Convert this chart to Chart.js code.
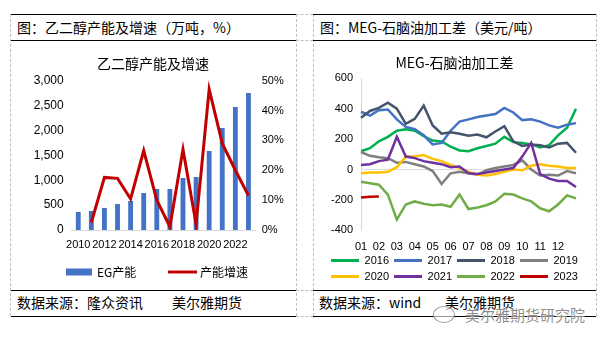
<!DOCTYPE html>
<html><head><meta charset="utf-8">
<script src="https://cdn.jsdelivr.net/npm/chart.js@4.4.1/dist/chart.umd.min.js"></script>
<style>
html,body{margin:0;padding:0;background:#fff;width:603px;height:342px;overflow:hidden;}
body{position:relative;font-family:"Noto Sans CJK SC",sans-serif;}
.solid{position:absolute;height:0;border-top:1px solid #000;}
.vdash{position:absolute;width:0;border-left:1px dashed #bfbfbf;}
.hdash{position:absolute;height:0;border-top:1px dashed #bfbfbf;}
.txt{position:absolute;font-size:14px;line-height:16px;color:#000;white-space:nowrap;}
canvas{position:absolute;}
.wm{position:absolute;font-size:15px;line-height:18px;color:rgba(95,95,95,0.72);white-space:nowrap;
    text-shadow:0 0 2px #fff,0 0 1px #fff;}
.icon{position:absolute;border:1.5px solid rgba(110,110,110,0.65);border-radius:50%;background:rgba(255,255,255,0.6);}
</style></head><body>
<div class="vdash" style="left:10px;top:14px;height:302px"></div>
<div class="vdash" style="left:296px;top:14px;height:302px"></div>
<div class="vdash" style="left:313px;top:14px;height:302px"></div>
<div class="vdash" style="left:596px;top:14px;height:302px"></div>
<div class="hdash" style="left:296px;top:14px;width:17px"></div>
<div class="hdash" style="left:296px;top:40px;width:17px"></div>
<div class="hdash" style="left:296px;top:290px;width:17px"></div>
<div class="hdash" style="left:296px;top:316px;width:17px"></div>
<div class="solid" style="left:11px;top:14px;width:285px"></div>
<div class="solid" style="left:11px;top:40px;width:285px"></div>
<div class="solid" style="left:11px;top:290px;width:285px"></div>
<div class="solid" style="left:11px;top:316px;width:285px"></div>
<div class="solid" style="left:313px;top:14px;width:283px"></div>
<div class="solid" style="left:313px;top:40px;width:283px"></div>
<div class="solid" style="left:313px;top:290px;width:283px"></div>
<div class="solid" style="left:313px;top:316px;width:283px"></div>

<div class="txt" style="left:17px;top:19px">图：乙二醇产能及增速（万吨，%）</div>
<div class="txt" style="left:17px;top:294px">数据来源：隆众资讯</div>
<div class="txt" style="left:172px;top:294px">美尔雅期货</div>
<div class="txt" style="left:320px;top:19px">图：MEG-石脑油加工差（美元/吨）</div>
<div class="txt" style="left:319px;top:294px">数据来源：wind</div>
<div class="txt" style="left:445px;top:294px">美尔雅期货</div>

<canvas id="left" width="284" height="247" style="left:11px;top:41px"></canvas>
<canvas id="right" width="281" height="251" style="left:314px;top:41px"></canvas>

<div class="icon" style="left:433px;top:306px;width:20px;height:15px"></div>
<div class="wm" style="left:465px;top:306px">美尔雅期货研究院</div>

<script>
// ---------- Left chart data ----------
const years = ['2010','2011','2012','2013','2014','2015','2016','2017','2018','2019','2020','2021','2022','2023'];
const egCapacity = [362, 382, 442, 522, 583, 743, 824, 824, 1045, 1065, 1587, 2049, 2471, 2752];
const growthRate = [null, 2.5, 17.6, 17.3, 10.4, 26.6, 10.0, 1.1, 27.0, 2.0, 47.1, 29.0, 20.0, 11.5];

// ---------- Right chart data ----------
const sampleDates = ['01/01','01/16','02/01','02/16','03/01','03/16','04/01','04/16','05/01','05/16','06/01','06/16',
  '07/01','07/16','08/01','08/16','09/01','09/16','10/01','10/16','11/01','11/16','12/01','12/16','12/31'];
const monthTicks = ['01','02','03','04','05','06','07','08','09','10','11','12'];
const s2016 = [120,140,185,215,255,265,255,220,190,185,150,125,120,140,155,170,215,180,175,165,145,160,225,275,400];
const s2017 = [380,355,390,395,330,280,265,225,165,175,255,315,330,345,355,365,405,375,325,330,315,290,275,295,305];
const s2018 = [340,385,405,440,400,300,333,420,290,235,245,235,222,230,212,250,285,185,155,165,160,145,170,175,110];
const s2019 = [115,90,80,75,45,50,35,20,-10,-95,-25,-15,-25,-35,-5,10,20,30,60,0,-40,-35,-40,-10,-25];
const s2020 = [-25,-20,-20,-15,15,85,85,95,70,55,30,10,-15,-35,-40,-30,-15,0,-5,25,35,25,20,10,10];
const s2021 = [30,35,55,65,215,85,75,55,45,35,15,20,-25,-30,-20,-10,0,10,85,175,-30,-60,-75,-75,-115];
const s2022 = [-80,-90,-100,-165,-330,-230,-210,-225,-235,-230,-245,-165,-260,-250,-235,-210,-160,-165,-190,-210,-255,-275,-230,-170,-190];
const s2023 = [-185,-180,-178];
const seriesNames = ['2016','2017','2018','2019','2020','2021','2022','2023'];
const seriesValues = [s2016,s2017,s2018,s2019,s2020,s2021,s2022,s2023];
const seriesColors = ['#00B050','#4472C4','#44546A','#7F7F7F','#FFC000','#7030A0','#70AD47','#C00000'];

const CJK = '"Noto Sans CJK SC", sans-serif';
const LAT = '"Liberation Sans", "Noto Sans CJK SC", sans-serif';
Chart.defaults.color = '#000';

const defaultLabels = Chart.defaults.plugins.legend.labels.generateLabels;

// Legend for the left chart, drawn on the chart canvas from the chart's own datasets
const leftLegend = {
  id: 'leftLegend',
  afterDraw(chart) {
    const ctx = chart.ctx;
    const ds = chart.data.datasets;
    const cy = 231;
    ctx.save();
    ctx.font = '12px ' + CJK;
    ctx.textBaseline = 'middle';
    ctx.textAlign = 'left';
    ctx.fillStyle = ds[0].backgroundColor;
    ctx.fillRect(55, cy - 3.5, 26, 7);
    ctx.fillStyle = '#000';
    ctx.fillText(ds[0].label, 86, cy);
    ctx.strokeStyle = ds[1].borderColor;
    ctx.lineWidth = 3;
    ctx.beginPath();
    ctx.moveTo(157, cy);
    ctx.lineTo(186, cy);
    ctx.stroke();
    ctx.fillStyle = '#000';
    ctx.fillText(ds[1].label, 189, cy);
    ctx.restore();
  }
};

new Chart(document.getElementById('left'), {
  type: 'bar',
  data: {
    labels: years,
    datasets: [
      {type:'bar', label:'EG产能', data: egCapacity, backgroundColor:'#4472C4', yAxisID:'y', order:1,
       barPercentage:0.37, categoryPercentage:1},
      {type:'line', label:'产能增速', data: growthRate, borderColor:'#C00000', backgroundColor:'#C00000',
       borderWidth:3, pointRadius:0, yAxisID:'y1', order:0, tension:0}
    ]
  },
  plugins: [leftLegend],
  options: {
    responsive:false, animation:false, devicePixelRatio:1,
    layout:{padding:0},
    plugins:{
      tooltip:{enabled:false},
      legend:{display:false},
      title:{display:true, text:'乙二醇产能及增速', color:'#000',
        font:{family:CJK, size:14, weight:'normal'}, padding:{top:14.6, bottom:8.3}}
    },
    scales:{
      x:{grid:{display:false, drawTicks:false}, border:{display:true, color:'#D9D9D9'},
        ticks:{autoSkip:false, maxRotation:0, padding:8, font:{family:LAT, size:11}, color:'#000',
          callback:(v,i)=> (i%2===0 ? years[i] : '')},
        afterFit:(s)=>{ s.height = 58; }},
      y:{position:'left', min:0, max:3000,
        ticks:{stepSize:500, padding:8, font:{family:LAT, size:12}, color:'#000',
          callback:(v)=>v.toLocaleString('en-US')},
        grid:{display:false, drawTicks:false}, border:{display:false},
        afterFit:(s)=>{ s.width = 60.7; }},
      y1:{position:'right', min:0, max:50,
        ticks:{stepSize:10, padding:6.7, font:{family:LAT, size:11}, color:'#000',
          callback:(v)=>v+'%'},
        grid:{display:false, drawTicks:false}, border:{display:false},
        afterFit:(s)=>{ s.width = 40; }}
    }
  }
});

new Chart(document.getElementById('right'), {
  type:'line',
  data:{
    labels: sampleDates,
    datasets: seriesNames.map((name,i)=>({
      label:name, data:seriesValues[i], borderColor:seriesColors[i], backgroundColor:seriesColors[i],
      borderWidth:2.5, pointRadius:0, tension:0, order: seriesNames.length - i
    }))
  },
  options:{
    responsive:false, animation:false, devicePixelRatio:1,
    layout:{padding:0},
    plugins:{
      tooltip:{enabled:false},
      title:{display:true, text:'MEG-石脑油加工差', color:'#000',
        font:{family:CJK, size:14, weight:'normal'}, padding:{top:13.6, bottom:6.9}},
      legend:{position:'bottom',
        labels:{usePointStyle:true, pointStyle:'line', pointStyleWidth:28, boxHeight:3, padding:5, color:'#000',
          font:{family:LAT, size:11},
          sort:(a,b)=>a.datasetIndex-b.datasetIndex,
          generateLabels:(chart)=>{
            const items = defaultLabels(chart);
            items.forEach(it=>{ it.pointStyle='line'; it.lineWidth=3; });
            return items;
          }}}
    },
    scales:{
      x:{type:'category', offset:false, grid:{display:false, drawTicks:false}, border:{display:false},
        ticks:{autoSkip:false, maxRotation:0, padding:10, font:{family:LAT, size:11}, color:'#000',
          callback:(v,i)=>{ const d = sampleDates[i]; return (d.endsWith('/01') ? monthTicks[parseInt(d.slice(0,2),10)-1] : ''); }},
        afterFit:(s)=>{ s.height = 19.7; }},
      y:{min:-400, max:600,
        ticks:{stepSize:200, padding:8, font:{family:LAT, size:11}, color:'#000'},
        grid:{drawTicks:false, color:(c)=> (c.tick && c.tick.value===0 ? '#D9D9D9' : 'rgba(0,0,0,0)')},
        border:{display:true, color:'#D9D9D9'},
        afterFit:(s)=>{ s.width = 47; }},
      yR:{position:'right', display:true, min:0, max:1,
        ticks:{display:false}, grid:{display:false, drawTicks:false}, border:{display:false},
        afterFit:(s)=>{ s.width = 19; }}
    }
  }
});
</script>
</body></html>
